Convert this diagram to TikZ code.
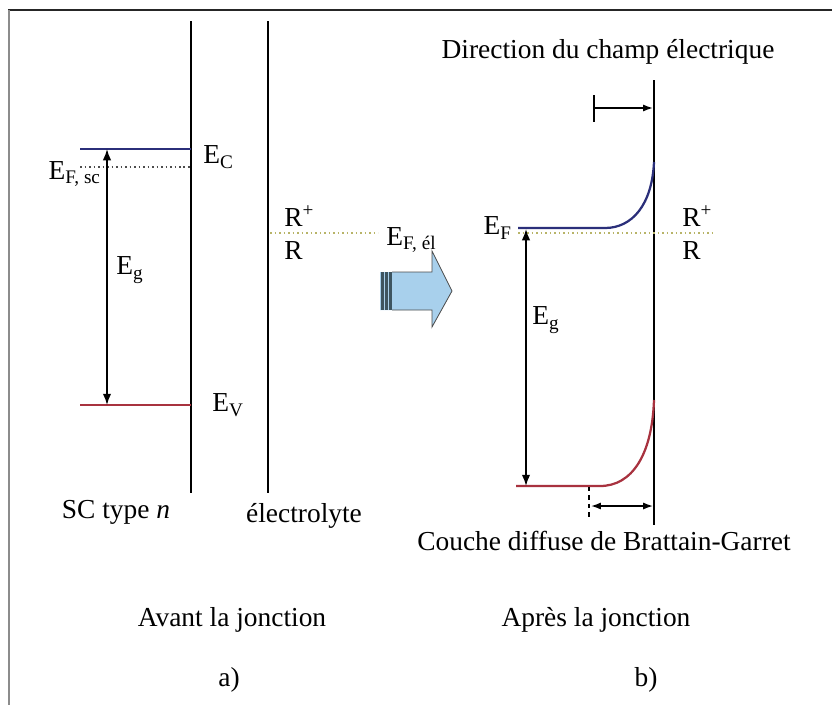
\documentclass[tikz,border=0pt]{standalone}
\usepackage{fontspec}
\setmainfont{Liberation Serif}
\usetikzlibrary{arrows.meta}
\definecolor{cbandblue}{HTML}{2B2F7A}
\definecolor{vbandred}{HTML}{A8323F}
\definecolor{redoxyellow}{HTML}{B8B468}
\definecolor{jointblue}{HTML}{A8D0EC}
\definecolor{jointdark}{HTML}{3E5560}

\begin{document}
\begin{tikzpicture}[x=0.025cm,y=-0.025cm,
  font=\fontsize{19.5}{22}\selectfont,
  wall/.style={line width=1.3pt},
  band/.style={line width=1.6pt},
  level/.style={dotted, line width=1.2pt},
  gaparrow/.style={line width=1.1pt, {Latex[length=8pt,width=6pt]}-{Latex[length=8pt,width=6pt]}},
  lbl/.style={inner sep=0pt}]

\useasboundingbox (0,0) rectangle (832,705);

% Frame
\draw[line width=1.4pt, black!85] (8,10) -- (832,10);
\draw[line width=1.2pt, black!45] (9,10) -- (9,705);

% a) SC and electrolyte walls
\draw[wall] (191,21) -- (191,493);
\draw[wall] (268,21) -- (268,493);

% Bands of the SC
\draw[band, cbandblue] (80,149) -- (191,149);
\draw[level, black!70] (80,167) -- (191,167);
\draw[band, vbandred] (80,405) -- (191,405);
\node[lbl, anchor=west] (ec) at (203,157) {E\textsubscript{C}};
\node[lbl, anchor=east] (efsc) at (101,174) {E\textsubscript{F, sc}};
\node[lbl, anchor=west] (ev) at (212,405) {E\textsubscript{V}};

% Gap
\coordinate (egtopa) at (107,149);
\coordinate (egbota) at (107,405);
\draw[gaparrow] (egtopa) -- (egbota);
\node[lbl, anchor=west] (ega) at (116,270) {E\textsubscript{g}};

% Redox level
\draw[level, redoxyellow] (270,233) -- (378,233);
\node[lbl, anchor=west] (rplusa) at (284,216) {R\textsuperscript{+}};
\node[lbl, anchor=west] (ra) at (284,251) {R};
\node[lbl, anchor=west] (efel) at (386,240) {E\textsubscript{F, él}};

\node (sctype) at (116,512) {SC type \textit{n}};
\node (electro) at (304,516) {électrolyte};
\node (avant) at (232,620) {Avant la jonction};
\node (parta) at (229,680) {a)};

% Junction arrow
\fill[jointblue] (380,272) -- (432,272) -- (432,251) -- (452,291)
  -- (432,327) -- (432,310) -- (380,310) -- cycle;
\draw[line width=0.6pt, black!70] (392,272) -- (432,272) -- (432,251) -- (452,291)
  -- (432,327) -- (432,310) -- (392,310);
\foreach \x in {381,385,389} {
    \fill[jointdark] (\x,272) rectangle (\x+2.5,310);
}

% b) interface after the junction
\draw[wall] (654,80) -- (654,525);
\node (champ) at (608,52) {Direction du champ électrique};
\draw[line width=1.1pt] (594,95) -- (594,122);
\coordinate (champa) at (594,108);
\coordinate (champb) at (653,108);
\draw[line width=1.1pt, -{Latex[length=7pt,width=5pt]}] (champa) -- (champb);

% Bent bands
\draw[level, redoxyellow] (518,233) -- (712,233);
\draw[band, cbandblue] (518,228) -- (605,228) .. controls (632,228) and (652,205) .. (654,162);
\draw[band, vbandred] (516,486) -- (600,486) .. controls (632,486) and (652,455) .. (654,400);
\node[lbl, anchor=east] (efb) at (512,228) {E\textsubscript{F}};
\node[lbl, anchor=west] (rplusb) at (682,216) {R\textsuperscript{+}};
\node[lbl, anchor=west] (rb) at (682,251) {R};

% Gap
\coordinate (egtopb) at (526,229);
\coordinate (egbotb) at (526,486);
\draw[gaparrow] (egtopb) -- (egbotb);
\node[lbl, anchor=west] (egb) at (532,320) {E\textsubscript{g}};

% Diffuse layer
\draw[dashed, line width=1pt] (589,487) -- (589,520);
\coordinate (couchea) at (591,506);
\coordinate (coucheb) at (653,506);
\draw[line width=1pt, {Latex[length=7pt,width=5pt]}-{Latex[length=7pt,width=5pt]}] (couchea) -- (coucheb);
\node (couche) at (604,541) {Couche diffuse de Brattain-Garret};
\node (apres) at (596,620) {Après la jonction};
\node (partb) at (646,680) {b)};

\end{tikzpicture}
\end{document}
